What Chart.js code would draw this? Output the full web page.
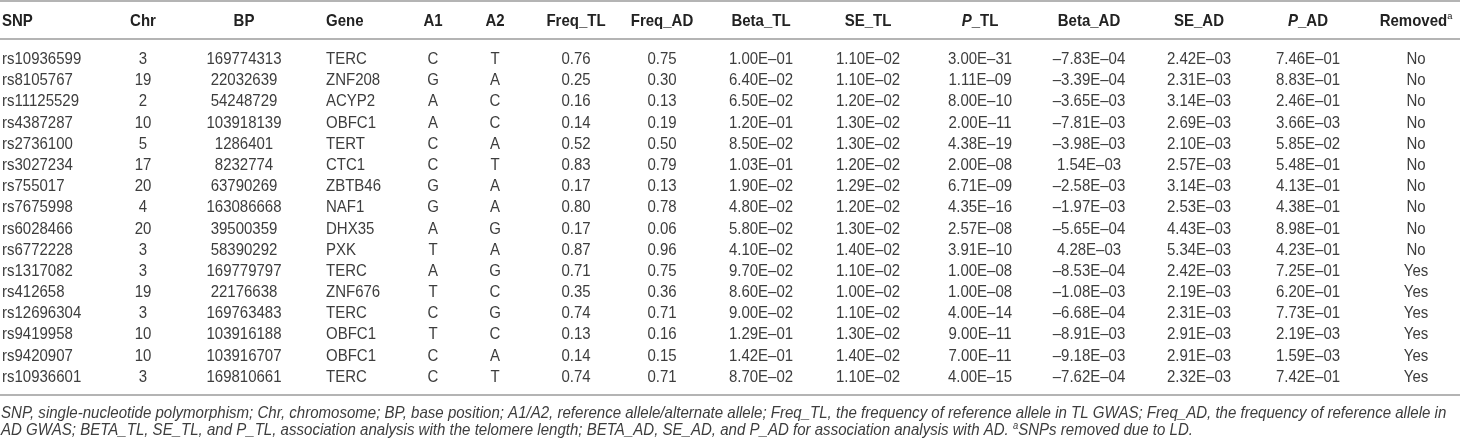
<!DOCTYPE html>
<html>
<head>
<meta charset="utf-8">
<script src="https://cdn.jsdelivr.net/npm/chart.js@4"></script>
<style>
  html, body { margin: 0; padding: 0; background: #ffffff; }
  #wrap { width: 1460px; height: 442px; }
</style>
</head>
<body>
<div id="wrap"><canvas id="c" width="1460" height="442"></canvas></div>
<script>
// ---------------- data ----------------
const snp = ["rs10936599","rs8105767","rs11125529","rs4387287","rs2736100","rs3027234","rs755017","rs7675998","rs6028466","rs6772228","rs1317082","rs412658","rs12696304","rs9419958","rs9420907","rs10936601"];
const chr = [3,19,2,10,5,17,20,4,20,3,3,19,3,10,10,3];
const bp = [169774313,22032639,54248729,103918139,1286401,8232774,63790269,163086668,39500359,58390292,169779797,22176638,169763483,103916188,103916707,169810661];
const gene = ["TERC","ZNF208","ACYP2","OBFC1","TERT","CTC1","ZBTB46","NAF1","DHX35","PXK","TERC","ZNF676","TERC","OBFC1","OBFC1","TERC"];
const a1 = ["C","G","A","A","C","C","G","G","A","T","A","T","C","T","C","C"];
const a2 = ["T","A","C","C","A","T","A","A","G","A","G","C","G","C","A","T"];
const freqTL = [0.76,0.25,0.16,0.14,0.52,0.83,0.17,0.80,0.17,0.87,0.71,0.35,0.74,0.13,0.14,0.74];
const freqAD = [0.75,0.30,0.13,0.19,0.50,0.79,0.13,0.78,0.06,0.96,0.75,0.36,0.71,0.16,0.15,0.71];
const betaTL = [1.00e-1,6.40e-2,6.50e-2,1.20e-1,8.50e-2,1.03e-1,1.90e-2,4.80e-2,5.80e-2,4.10e-2,9.70e-2,8.60e-2,9.00e-2,1.29e-1,1.42e-1,8.70e-2];
const seTL = [1.10e-2,1.10e-2,1.20e-2,1.30e-2,1.30e-2,1.20e-2,1.29e-2,1.20e-2,1.30e-2,1.40e-2,1.10e-2,1.00e-2,1.10e-2,1.30e-2,1.40e-2,1.10e-2];
const pTL = [3.00e-31,1.11e-9,8.00e-10,2.00e-11,4.38e-19,2.00e-8,6.71e-9,4.35e-16,2.57e-8,3.91e-10,1.00e-8,1.00e-8,4.00e-14,9.00e-11,7.00e-11,4.00e-15];
const betaAD = [-7.83e-4,-3.39e-4,-3.65e-3,-7.81e-3,-3.98e-3,1.54e-3,-2.58e-3,-1.97e-3,-5.65e-4,4.28e-3,-8.53e-4,-1.08e-3,-6.68e-4,-8.91e-3,-9.18e-3,-7.62e-4];
const seAD = [2.42e-3,2.31e-3,3.14e-3,2.69e-3,2.10e-3,2.57e-3,3.14e-3,2.53e-3,4.43e-3,5.34e-3,2.42e-3,2.19e-3,2.31e-3,2.91e-3,2.91e-3,2.32e-3];
const pAD = [7.46e-1,8.83e-1,2.46e-1,3.66e-3,5.85e-2,5.48e-1,4.13e-1,4.38e-1,8.98e-1,4.23e-1,7.25e-1,6.20e-1,7.73e-1,2.19e-3,1.59e-3,7.42e-1];
const removed = ["No","No","No","No","No","No","No","No","No","No","Yes","Yes","Yes","Yes","Yes","Yes"];

const headers = ["SNP","Chr","BP","Gene","A1","A2","Freq_TL","Freq_AD","Beta_TL","SE_TL","P_TL","Beta_AD","SE_AD","P_AD","Removed"];
const footnote1 = "SNP, single-nucleotide polymorphism; Chr, chromosome; BP, base position; A1/A2, reference allele/alternate allele; Freq_TL, the frequency of reference allele in TL GWAS; Freq_AD, the frequency of reference allele in";
const footnote2a = "AD GWAS; BETA_TL, SE_TL, and P_TL, association analysis with the telomere length; BETA_AD, SE_AD, and P_AD for association analysis with AD. ";
const footnote2sup = "a";
const footnote2b = "SNPs removed due to LD.";

// ---------------- formatting ----------------
function fmtE(v) {
  const s = v.toExponential(2);
  let [m, e] = s.split("e");
  const neg = e[0] === "-";
  e = e.replace(/^[+-]/, "").padStart(2, "0");
  m = m.replace("-", "\u2013");
  return m + "E" + (neg ? "\u2013" : "+") + e;
}
const f2 = v => v.toFixed(2);

const columnTexts = [
  snp, chr.map(String), bp.map(String), gene, a1, a2,
  freqTL.map(f2), freqAD.map(f2),
  betaTL.map(fmtE), seTL.map(fmtE), pTL.map(fmtE),
  betaAD.map(fmtE), seAD.map(fmtE), pAD.map(fmtE),
  removed
];

// ---------------- layout (table geometry) ----------------
const colAnchor = [2, 143, 244, 326, 433, 495, 576, 662, 761, 868, 980, 1089, 1199, 1308, 1416];
const colAlign  = ["left","center","center","left","center","center","center","center","center","center","center","center","center","center","center"];
const HEADER_ROW = -1.808, HEADER_RULE = -0.911, TOP_RULE = -2.705, BOTTOM_RULE = 15.89;
const FONT = '"Liberation Sans", Arial, Helvetica, sans-serif';
const BODY_SIZE = 15, STRETCH = 1.06, FOOT_STRETCH = 1.15;
const BODY_COLOR = "#3d3d3d", HEAD_COLOR = "#222222", RULE_COLOR = "#b4b4b4";

function headerSegments(h) {
  if (h.startsWith("P_")) return [{t: "P", style: "italic bold"}, {t: h.slice(1), style: "bold"}];
  if (h === "Removed") return [{t: "Removed", style: "bold"}, {t: "a", style: "", sup: true}];
  return [{t: h, style: "bold"}];
}

function drawSegments(ctx, segs, x, yCenter, align, size, color) {
  const capH = 0.716 * size * STRETCH;
  const base = yCenter + capH / 2;
  let total = 0;
  const widths = segs.map(s => {
    ctx.font = (s.style ? s.style + " " : "") + (s.sup ? size * 0.62 : size) + "px " + FONT;
    const w = ctx.measureText(s.t).width;
    total += w;
    return w;
  });
  let cx = align === "left" ? x : align === "right" ? x - total : x - total / 2;
  segs.forEach((s, i) => {
    ctx.font = (s.style ? s.style + " " : "") + (s.sup ? size * 0.62 : size) + "px " + FONT;
    ctx.save();
    ctx.translate(cx, s.sup ? base - size * 0.42 : base);
    ctx.scale(1, STRETCH);
    ctx.fillStyle = color;
    ctx.textAlign = "left";
    ctx.textBaseline = "alphabetic";
    ctx.fillText(s.t, 0, 0);
    ctx.restore();
    cx += widths[i];
  });
}

const tablePlugin = {
  id: "tableText",
  afterDatasetsDraw(chart) {
    const ctx = chart.ctx;
    const xs = chart.scales.x, ys = chart.scales.y;
    const left = xs.getPixelForValue(0), right = xs.getPixelForValue(1460);
    // rules
    ctx.save();
    ctx.strokeStyle = RULE_COLOR;
    ctx.lineWidth = 2;
    [TOP_RULE, HEADER_RULE, BOTTOM_RULE].forEach(v => {
      const y = Math.round(ys.getPixelForValue(v));
      ctx.beginPath(); ctx.moveTo(left, y); ctx.lineTo(right, y); ctx.stroke();
    });
    ctx.restore();
    // header
    const hy = ys.getPixelForValue(HEADER_ROW);
    headers.forEach((h, c) => {
      drawSegments(ctx, headerSegments(h), xs.getPixelForValue(colAnchor[c]), hy, colAlign[c], BODY_SIZE, HEAD_COLOR);
    });
    // body cells from dataset elements
    chart.data.datasets.forEach((ds, c) => {
      const meta = chart.getDatasetMeta(c);
      meta.data.forEach((el, i) => {
        drawSegments(ctx, [{t: ds.cellText[i], style: ""}], el.x, el.y, colAlign[c], BODY_SIZE, BODY_COLOR);
      });
    });
    // footnote
    const fsRef = 100;
    ctx.font = "italic " + fsRef + "px " + FONT;
    const w1 = ctx.measureText(footnote1).width;
    const fs = fsRef * 1446 / w1;
    const drawFoot = (segs, baseline) => {
      let cx = 1;
      segs.forEach(s => {
        const sz = s.sup ? fs * 0.62 : fs;
        ctx.font = "italic " + sz + "px " + FONT;
        ctx.save();
        ctx.translate(cx, s.sup ? baseline - fs * 0.4 : baseline);
        ctx.scale(1, FOOT_STRETCH);
        ctx.fillStyle = BODY_COLOR;
        ctx.textAlign = "left";
        ctx.textBaseline = "alphabetic";
        ctx.fillText(s.t, 0, 0);
        ctx.restore();
        cx += ctx.measureText(s.t).width;
      });
    };
    drawFoot([{t: footnote1}], 418);
    drawFoot([{t: footnote2a}, {t: footnote2sup, sup: true}, {t: footnote2b}], 435);
  }
};

const datasets = columnTexts.map((texts, c) => ({
  label: headers[c],
  cellText: texts,
  data: texts.map((_, i) => ({x: colAnchor[c], y: i})),
  pointRadius: 0,
  pointHoverRadius: 0,
  showLine: false
}));

new Chart(document.getElementById("c"), {
  type: "scatter",
  data: { datasets },
  options: {
    responsive: false,
    animation: false,
    events: [],
    layout: { padding: { top: 1, bottom: 47, left: 0, right: 0 } },
    plugins: { legend: { display: false }, tooltip: { enabled: false }, title: { display: false } },
    scales: {
      x: { type: "linear", min: 0, max: 1460, display: false },
      y: { type: "linear", min: TOP_RULE, max: BOTTOM_RULE, reverse: true, display: false }
    }
  },
  plugins: [tablePlugin]
});
</script>
</body>
</html>
